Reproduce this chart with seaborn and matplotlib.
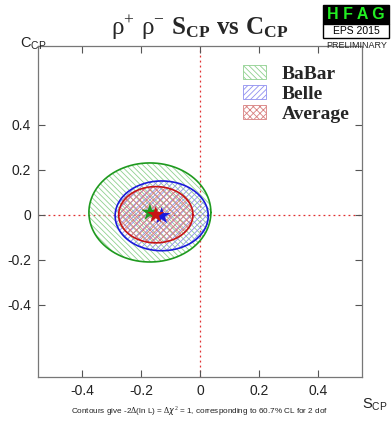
import numpy as np
import pandas as pd
import seaborn as sns
import matplotlib.pyplot as plt
from matplotlib.patches import Patch, Rectangle

# measurements: central values and contour half-widths (S_CP, C_CP)
experiments = ['BaBar', 'Belle', 'Average']
s_cp = [-0.17, -0.13, -0.15]
c_cp = [0.01, -0.005, 0.0]
s_halfwidth = [0.207, 0.158, 0.126]
c_halfwidth = [0.22, 0.155, 0.125]
line_colors = ['#1e9a1e', '#1a1adb', '#c81414']
hatch_colors = ['#8fd08f', '#8f8ff0', '#d88080']
hatches = ['\\\\\\\\\\\\', '//////', 'xxxxx']
x_ticks = [-0.4, -0.2, 0, 0.2, 0.4]
y_ticks = [-0.4, -0.2, 0, 0.2, 0.4]

sns.set_theme(style='white')
plt.rcParams['font.family'] = ['Liberation Sans', 'DejaVu Sans']
plt.rcParams['mathtext.fontset'] = 'custom'
plt.rcParams['mathtext.rm'] = 'Liberation Serif'
plt.rcParams['mathtext.bf'] = 'Liberation Serif:bold'
plt.rcParams['mathtext.sf'] = 'Liberation Sans'
plt.rcParams['hatch.linewidth'] = 0.6

fig = plt.figure(figsize=(3.91, 4.21), dpi=100)
ax = fig.add_axes([0.097, 0.105, 0.829, 0.786])

t = np.linspace(0, 2 * np.pi, 200)
for i, name in enumerate(experiments):
    contour = pd.DataFrame({
        'S': s_cp[i] + s_halfwidth[i] * np.cos(t),
        'C': c_cp[i] + c_halfwidth[i] * np.sin(t),
    })
    ax.fill(contour['S'], contour['C'], fill=False, hatch=hatches[i],
            edgecolor=hatch_colors[i], linewidth=0, zorder=1 + i)
    sns.lineplot(data=contour, x='S', y='C', sort=False, estimator=None,
                 color=line_colors[i], linewidth=1.2, ax=ax, zorder=4 + i)

stars = pd.DataFrame({'S': s_cp, 'C': c_cp, 'exp': experiments})
sns.scatterplot(data=stars, x='S', y='C', hue='exp', palette=line_colors,
                marker='*', s=170, linewidth=0, legend=False, ax=ax, zorder=10)

ax.axvline(0, color='#e03030', linestyle=(0, (1.5, 2.5)), linewidth=0.9, zorder=0)
ax.axhline(0, color='#e03030', linestyle=(0, (1.5, 2.5)), linewidth=0.9, zorder=0)

ax.set_xlim(-0.55, 0.55)
ax.set_ylim(-0.72, 0.75)
ax.set_xticks(x_ticks)
ax.set_xticklabels(['-0.4', '-0.2', '0', '0.2', '0.4'])
ax.set_yticks(y_ticks)
ax.set_yticklabels(['-0.4', '-0.2', '0', '0.2', '0.4'])
ax.tick_params(direction='in', length=5, width=0.8, color='#555555',
               top=True, right=True, bottom=True, left=True,
               labelsize=10, labelcolor='#222222', pad=5)
ax.set_xlabel('')
ax.set_ylabel('')
for sp in ax.spines.values():
    sp.set_color('#777777')
    sp.set_linewidth(0.9)

fig.text(0.052, 0.896, r'C$_{\mathsf{CP}}$', fontsize=10.5, color='#222222',
         ha='left', va='center')
fig.text(0.925, 0.04, r'S$_{\mathsf{CP}}$', fontsize=10.5, color='#222222',
         ha='left', va='center')

# title
fig.text(0.51, 0.935, r'$\mathrm{ρ}^{+}$ $\mathrm{ρ}^{-}$ $\mathbf{S_{CP}}$ $\mathbf{vs}$ $\mathbf{C_{CP}}$',
         fontsize=18, ha='center', va='center')

# legend with hatched boxes
handles = [Patch(facecolor='white', edgecolor=hatch_colors[i], hatch=hatches[i],
                 linewidth=0.6) for i in range(3)]
leg = ax.legend(handles, experiments, loc='upper left', bbox_to_anchor=(0.61, 0.965),
                frameon=False, handlelength=1.15, handleheight=0.75,
                handletextpad=0.8, labelspacing=0.1, borderaxespad=0,
                prop={'family': 'Liberation Serif', 'weight': 'bold', 'size': 14})

# HFAG logo
fig.patches.append(Rectangle((0.826, 0.943), 0.170, 0.046, transform=fig.transFigure,
                             facecolor='black', edgecolor='black', figure=fig))
fig.patches.append(Rectangle((0.826, 0.91), 0.170, 0.034, transform=fig.transFigure,
                             facecolor='white', edgecolor='black', linewidth=1, figure=fig))
fig.text(0.911, 0.966, 'H F A G', color='#22ee22', fontsize=11.5, fontweight='bold',
         ha='center', va='center')
fig.text(0.911, 0.927, 'EPS 2015', color='black', fontsize=7.5,
         ha='center', va='center')
fig.text(0.911, 0.893, 'PRELIMINARY', color='#222222', fontsize=6.5,
         ha='center', va='center')

fig.text(0.51, 0.024, r'Contours give -2$\Delta$(ln L) = $\Delta\chi^2$ = 1, corresponding to 60.7% CL for 2 dof',
         fontsize=5.9, ha='center', va='center', color='#222222')

fig.savefig('out.png', dpi=100)
